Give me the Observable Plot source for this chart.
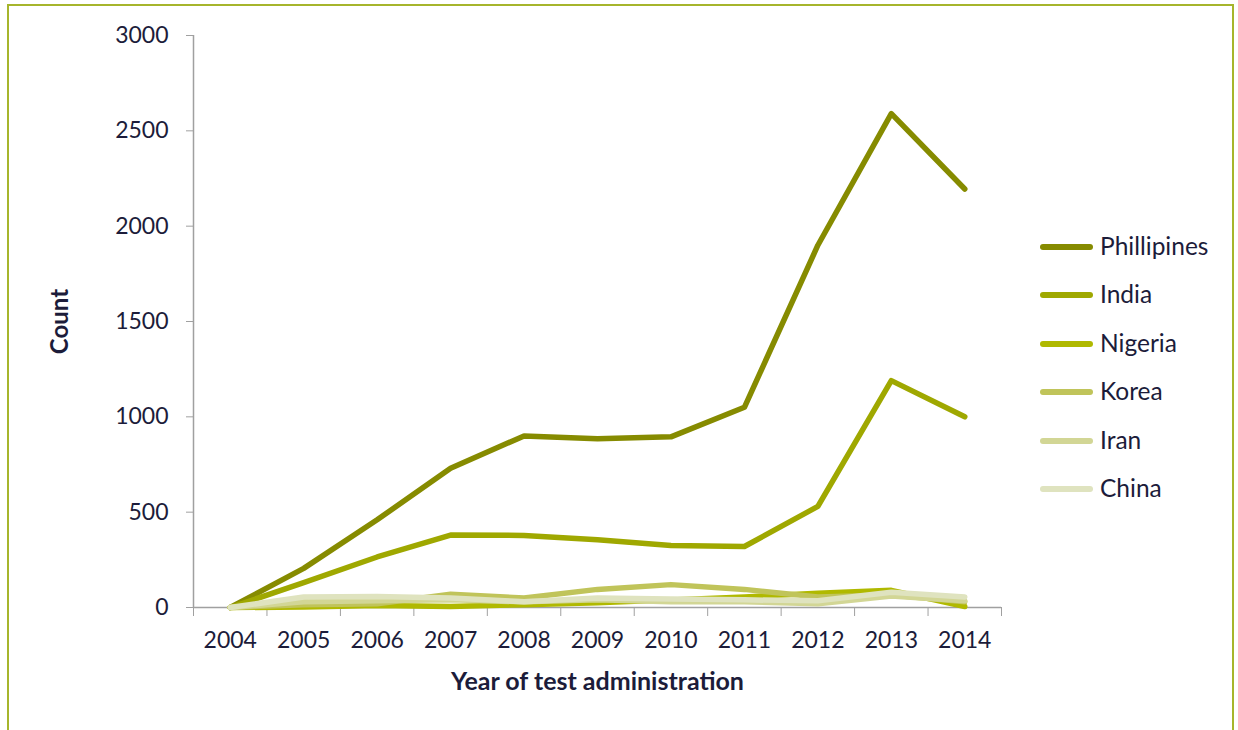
<!DOCTYPE html>
<html>
<head>
<meta charset="utf-8">
<script src="https://cdn.jsdelivr.net/npm/d3@7"></script>
<script src="https://cdn.jsdelivr.net/npm/@observablehq/plot@0.6"></script>
<style>
  html, body { margin: 0; padding: 0; background: #fff; }
  #wrap { position: relative; width: 1238px; height: 730px; overflow: hidden; font-family: Lato, "Open Sans", sans-serif; }
  #frame { position: absolute; left: 7px; top: 4px; width: 1227px; height: 760px; border: 2px solid #a6b52c; box-sizing: border-box; }
  #legend { position: absolute; left: 1040px; top: 231px; }
  .item { position: absolute; left: 0; height: 30px; white-space: nowrap; }
  .sw { position: absolute; left: 0; top: 13px; width: 53px; height: 6px; border-radius: 3px; }
  .lab { position: absolute; left: 60px; top: 0; font-size: 24.5px; color: #1c1c3a; line-height: 30px; }
</style>
</head>
<body>
<div id="wrap">
  <div id="frame"></div>
  <div id="chart"></div>
  <div id="legend"></div>
</div>
<script>
const years = [2004, 2005, 2006, 2007, 2008, 2009, 2010, 2011, 2012, 2013, 2014];
const countries = ["Phillipines", "India", "Nigeria", "Korea", "Iran", "China"];
const colors = ["#868b00", "#9fa800", "#b0b900", "#c0c45a", "#d2d695", "#dfe3bf"];
const phillipines = [0, 205, 460, 730, 900, 885, 895, 1050, 1900, 2590, 2195];
const india       = [0, 130, 265, 380, 378, 355, 325, 320, 530, 1190, 1000];
const nigeria     = [0, 2, 10, 5, 15, 25, 40, 55, 75, 90, 5];
const korea       = [0, 15, 20, 70, 50, 95, 120, 95, 55, 65, 30];
const iran        = [0, 30, 35, 40, 30, 40, 30, 30, 20, 60, 35];
const china       = [0, 55, 58, 50, 30, 50, 45, 40, 35, 80, 55];
const yTicks = [0, 500, 1000, 1500, 2000, 2500, 3000];

const seriesValues = [phillipines, india, nigeria, korea, iran, china];
const rows = [];
countries.forEach((c, i) => years.forEach((y, j) => rows.push({country: c, year: y, value: seriesValues[i][j]})));
const boundaries = d3.range(years.length + 1).map(i => years[0] - 0.5 + i);

const textColor = "#1c1c3a";
const axisColor = "#a0a0a0";

const chart = Plot.plot({
  width: 1238,
  height: 730,
  marginLeft: 193,
  marginRight: 237,
  marginTop: 35,
  marginBottom: 123,
  style: {fontFamily: "Lato, 'Open Sans', sans-serif", fontSize: "23px", color: textColor, background: "transparent"},
  x: {type: "linear", domain: [years[0] - 0.5, years[years.length - 1] + 0.5]},
  y: {domain: [0, 3000]},
  color: {domain: countries, range: colors},
  marks: [
    Plot.axisY({ticks: yTicks, tickSize: 7, tickPadding: 18, tickFormat: d => String(d), stroke: axisColor, fill: textColor, fontSize: 23, label: null}),
    Plot.ruleX([years[0] - 0.5], {stroke: axisColor, strokeWidth: 1.5}),
    Plot.axisX({ticks: boundaries, tickSize: 9, tickFormat: () => "", stroke: axisColor, label: null}),
    Plot.axisX({ticks: years, tickSize: 0, tickPadding: 24, tickFormat: d => String(d), fill: textColor, fontSize: 23, label: null}),
    Plot.ruleY([0], {stroke: axisColor, strokeWidth: 1.5}),
    Plot.line(rows, {x: "year", y: "value", z: "country", stroke: "country", strokeWidth: 5.5, strokeLinecap: "round", strokeLinejoin: "round"}),
    Plot.text(["Year of test administration"], {frameAnchor: "bottom", dy: 82, fontWeight: "bold", fontSize: 25, fill: textColor}),
    Plot.text(["Count"], {frameAnchor: "left", dx: -133, rotate: -90, textAnchor: "middle", fontWeight: "bold", fontSize: 24, fill: textColor})
  ]
});
document.getElementById("chart").appendChild(chart);

const legend = document.getElementById("legend");
countries.forEach((c, i) => {
  const item = document.createElement("div");
  item.className = "item";
  item.style.top = (i * 48.4) + "px";
  const sw = document.createElement("div");
  sw.className = "sw";
  sw.style.background = colors[i];
  const lab = document.createElement("div");
  lab.className = "lab";
  lab.textContent = c;
  item.appendChild(sw);
  item.appendChild(lab);
  legend.appendChild(item);
});
</script>
</body>
</html>
